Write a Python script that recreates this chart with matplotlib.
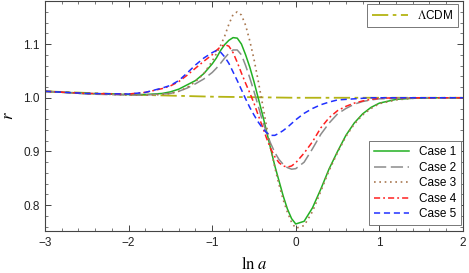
import numpy as np
import matplotlib
matplotlib.use("Agg")
import matplotlib.pyplot as plt
from matplotlib.ticker import MultipleLocator, FormatStrFormatter

plt.rcParams['font.family'] = ['Liberation Sans', 'DejaVu Sans']
plt.rcParams['mathtext.fontset'] = 'stix'

lna = [-3.0, -2.5, -2.0, -1.8, -1.6, -1.5, -1.4, -1.3, -1.2, -1.1,
       -1.0, -0.95, -0.9, -0.85, -0.8, -0.75, -0.7, -0.65, -0.6, -0.55,
       -0.5, -0.45, -0.4, -0.35, -0.3, -0.25, -0.2, -0.15, -0.1, -0.05,
       0.0, 0.1, 0.2, 0.3, 0.4, 0.5, 0.6, 0.7, 0.8, 0.9,
       1.0, 1.2, 1.4, 1.7, 2.0]

case1 = [1.012, 1.008, 1.006, 1.006, 1.008, 1.011, 1.016, 1.024, 1.032, 1.045,
         1.063, 1.074, 1.088, 1.099, 1.107, 1.112, 1.111, 1.100, 1.080, 1.057,
         1.030, 1.000, 0.970, 0.938, 0.905, 0.873, 0.845, 0.817, 0.793, 0.775,
         0.765, 0.770, 0.795, 0.830, 0.868, 0.900, 0.930, 0.953, 0.970, 0.982,
         0.990, 0.997, 0.999, 1.000, 1.000]

case2 = [1.012, 1.007, 1.005, 1.005, 1.007, 1.008, 1.012, 1.018, 1.026, 1.035,
         1.047, 1.055, 1.064, 1.074, 1.083, 1.089, 1.089, 1.080, 1.060, 1.037,
         1.012, 0.985, 0.958, 0.935, 0.915, 0.898, 0.885, 0.876, 0.870, 0.867,
         0.868, 0.880, 0.905, 0.932, 0.953, 0.970, 0.980, 0.988, 0.993, 0.996,
         0.998, 0.999, 1.000, 1.000, 1.000]

case3 = [1.012, 1.008, 1.005, 1.005, 1.006, 1.008, 1.012, 1.019, 1.030, 1.045,
         1.068, 1.082, 1.097, 1.115, 1.137, 1.155, 1.160, 1.154, 1.135, 1.106,
         1.072, 1.032, 0.990, 0.947, 0.907, 0.870, 0.838, 0.810, 0.787, 0.768,
         0.757, 0.762, 0.788, 0.826, 0.865, 0.898, 0.928, 0.951, 0.968, 0.980,
         0.989, 0.996, 0.999, 1.000, 1.000]

case4 = [1.012, 1.008, 1.007, 1.010, 1.017, 1.022, 1.030, 1.042, 1.055, 1.068,
         1.080, 1.088, 1.095, 1.099, 1.096, 1.084, 1.066, 1.046, 1.027, 1.009,
         0.990, 0.968, 0.947, 0.925, 0.905, 0.890, 0.879, 0.873, 0.871, 0.873,
         0.879, 0.897, 0.918, 0.944, 0.963, 0.976, 0.984, 0.990, 0.994, 0.997,
         0.999, 1.000, 1.000, 1.000, 1.000]

case5 = [1.012, 1.008, 1.007, 1.010, 1.018, 1.023, 1.032, 1.046, 1.061, 1.074,
         1.084, 1.088, 1.085, 1.076, 1.064, 1.048, 1.032, 1.015, 0.998, 0.982,
         0.968, 0.955, 0.944, 0.935, 0.930, 0.930, 0.934, 0.939, 0.945, 0.952,
         0.959, 0.971, 0.980, 0.987, 0.992, 0.996, 0.997, 0.998, 0.999, 1.000,
         1.000, 1.000, 1.000, 1.000, 1.000]

lcdm_x = [-3.0, -2.5, -2.0, -1.5, -1.0, -0.5, 0.0, 0.5, 1.0, 2.0]
lcdm_r = [1.012, 1.009, 1.006, 1.004, 1.002, 1.001, 1.000, 1.000, 1.000, 1.000]

labels = ['Case 1', 'Case 2', 'Case 3', 'Case 4', 'Case 5']

fig = plt.figure(figsize=(4.69, 2.73), dpi=100)
ax = fig.add_axes([0.096, 0.154, 0.891, 0.842])

lcdm_line, = ax.plot(lcdm_x, lcdm_r, color='#b4b414', lw=1.3,
                     dashes=(9, 2.5, 2, 2.5))
l1, = ax.plot(lna, case1, color='#22b022', lw=1.1, ls='-')
l2, = ax.plot(lna, case2, color='#8c8c8c', lw=1.1, dashes=(8, 3))
l3, = ax.plot(lna, case3, color='#a8774f', lw=1.2, dashes=(1, 2.2))
l4, = ax.plot(lna, case4, color='#ff2020', lw=1.1, dashes=(4, 2, 1.2, 2))
l5, = ax.plot(lna, case5, color='#2030ff', lw=1.1, dashes=(4, 2.5))

ax.set_xlim(-3, 2)
ax.set_ylim(0.752, 1.18)
ax.xaxis.set_major_locator(MultipleLocator(1))
ax.xaxis.set_minor_locator(MultipleLocator(0.2))
ax.yaxis.set_major_locator(MultipleLocator(0.1))
ax.yaxis.set_minor_locator(MultipleLocator(0.02))
ax.yaxis.set_major_formatter(FormatStrFormatter('%.1f'))
ax.tick_params(which='both', direction='in', top=True, right=True,
               colors='#444444', labelcolor='#222222', labelsize=8.5)
ax.tick_params(which='major', length=4, width=0.7, pad=4)
ax.tick_params(which='minor', length=2, width=0.5)
for sp in ax.spines.values():
    sp.set_color('#444444')
    sp.set_linewidth(0.8)

ax.set_xlabel(r'$\ln\,a$', fontsize=12, labelpad=5)
ax.set_ylabel(r'$r$', fontsize=12, labelpad=5)

leg1 = ax.legend([lcdm_line], [r'$\Lambda$CDM'], loc='upper right',
                 bbox_to_anchor=(0.988, 0.987), borderaxespad=0,
                 fontsize=8.5, handlelength=3.0, handletextpad=0.8,
                 fancybox=False, edgecolor='#777777', framealpha=1,
                 borderpad=0.4)
leg1.get_frame().set_linewidth(0.7)
ax.add_artist(leg1)

leg2 = ax.legend([l1, l2, l3, l4, l5], labels, loc='lower right',
                 bbox_to_anchor=(0.995, 0.026), borderaxespad=0,
                 fontsize=8.5, handlelength=3.0, handletextpad=0.8,
                 labelspacing=0.3, fancybox=False, edgecolor='#777777',
                 framealpha=1, borderpad=0.4)
leg2.get_frame().set_linewidth(0.7)

fig.savefig('out.png', dpi=100)
